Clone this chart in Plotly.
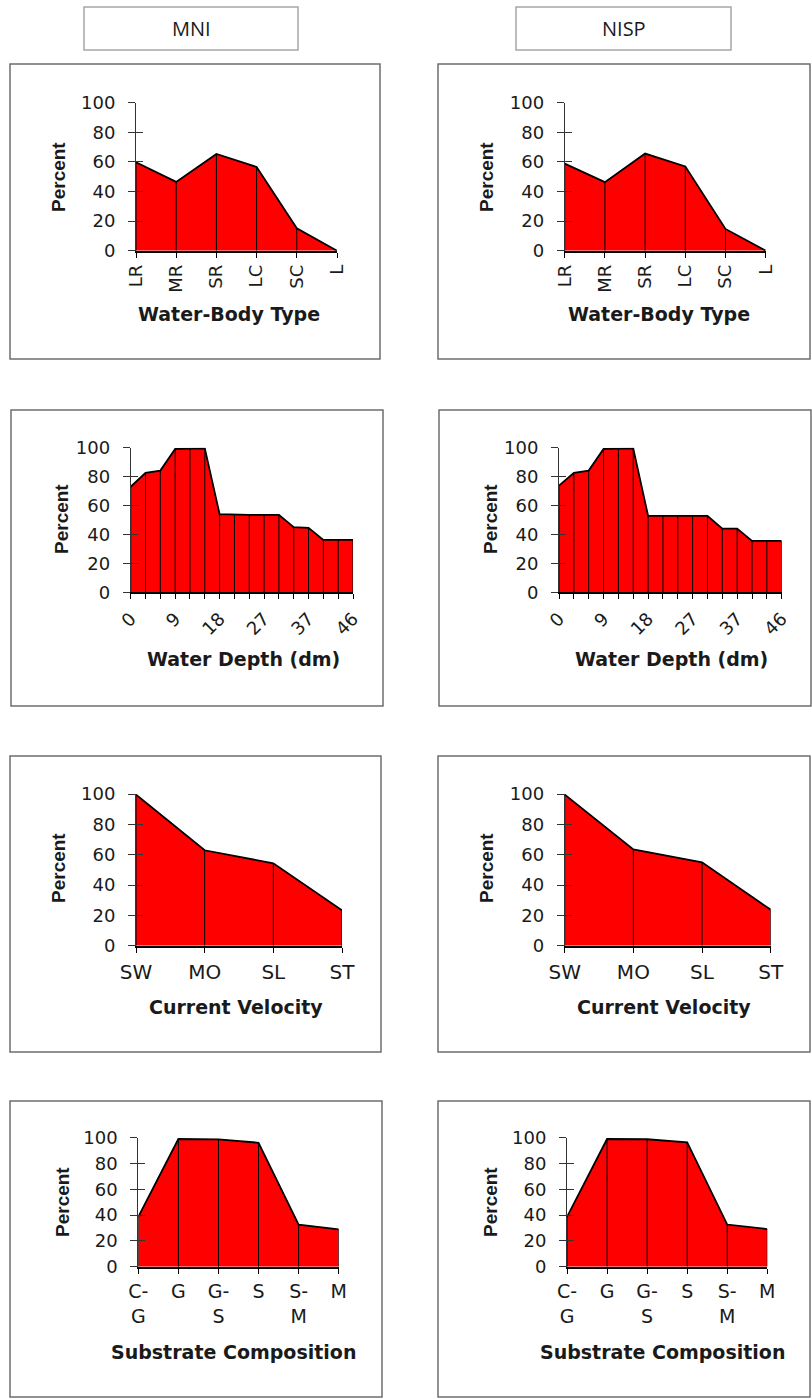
import plotly.graph_objects as go

# ---- data -----------------------------------------------------------------
body_types = ["LR", "MR", "SR", "LC", "SC", "L"]
body_mni = [59.7, 46.5, 65.4, 56.6, 15.1, 0]
body_nisp = [58.8, 46.3, 65.6, 56.9, 14.7, 0]

depth_tick_labels = ["0", "", "", "9", "", "", "18", "", "", "27", "", "", "37", "", "", "46"]
depth_mni = [73.0, 82.6, 84.2, 99.1, 99.3, 99.5, 54.0, 53.6, 53.6, 53.6, 53.6, 45.0, 44.6, 36.2, 36.2, 36.2]
depth_nisp = [73.8, 82.6, 84.2, 99.1, 99.3, 99.5, 52.9, 52.9, 52.9, 52.9, 52.9, 44.0, 44.0, 35.5, 35.5, 35.5]

velocity_types = ["SW", "MO", "SL", "ST"]
velocity_mni = [99.6, 62.9, 54.3, 23.3]
velocity_nisp = [99.6, 63.5, 55.0, 23.7]

substrate_types = ["C-<br>G", "G", "G-<br>S", "S", "S-<br>M", "M"]
substrate_mni = [38.6, 99.0, 98.7, 96.1, 32.6, 29.0]
substrate_nisp = [38.6, 99.0, 98.8, 96.4, 32.7, 29.2]

y_ticks = [0, 20, 40, 60, 80, 100]
column_titles = ["MNI", "NISP"]
y_title = "Percent"

# ---- page layout (pixels) ---------------------------------------------------
W, H = 812, 1399
FILL = "#FF0000"
TXT = "#1a1a1a"
FONT = "DejaVu Sans"

panels = [
    dict(lab=body_types, val=body_mni, title="Water-Body Type", angle=-90, gap=0, fs=18,
         rect=(136, 337, 102.7, 250.7), box=(10, 380, 64, 359), pct=(59, 177), ttl=(229, 314)),
    dict(lab=body_types, val=body_nisp, title="Water-Body Type", angle=-90, gap=0, fs=18,
         rect=(564.7, 765.7, 102.7, 250.7), box=(438, 810, 64, 359), pct=(487, 177), ttl=(659, 314)),
    dict(lab=depth_tick_labels, val=depth_mni, title="Water Depth (dm)", angle=-45, gap=2, fs=18,
         rect=(130.7, 353, 447.7, 592.3), box=(11, 383, 410, 706), pct=(61, 519), ttl=(243, 659)),
    dict(lab=depth_tick_labels, val=depth_nisp, title="Water Depth (dm)", angle=-45, gap=2, fs=18,
         rect=(559, 781.7, 447.7, 592.3), box=(439, 811, 410, 706), pct=(490, 519), ttl=(671, 659)),
    dict(lab=velocity_types, val=velocity_mni, title="Current Velocity", angle=0, gap=2, fs=20,
         rect=(136, 342, 794, 945.7), box=(10, 381, 756, 1052), pct=(59, 868), ttl=(236, 1007)),
    dict(lab=velocity_types, val=velocity_nisp, title="Current Velocity", angle=0, gap=2, fs=20,
         rect=(564.7, 770.7, 794, 945.7), box=(438, 810, 756, 1052), pct=(487, 868), ttl=(664, 1007)),
    dict(lab=substrate_types, val=substrate_mni, title="Substrate Composition", angle=0, gap=2, fs=19,
         rect=(138.3, 338.7, 1137.7, 1266.7), box=(10, 382, 1101, 1397), pct=(62, 1202), ttl=(234, 1352)),
    dict(lab=substrate_types, val=substrate_nisp, title="Substrate Composition", angle=0, gap=2, fs=19,
         rect=(567, 767.3, 1137.7, 1266.7), box=(438, 810, 1101, 1397), pct=(490, 1202), ttl=(662, 1352)),
]
header_boxes = [(84, 298, 7, 50), (516, 731, 7, 50)]


def px_x(v):
    return v / W


def px_y(v):
    return 1 - v / H


fig = go.Figure()
layout = {}
shapes = []
annotations = []

for k, p in enumerate(panels, start=1):
    sfx = "" if k == 1 else str(k)
    ov = str(k + len(panels))
    n = len(p["val"])
    idx = list(range(n))
    x0, x1, yt, yb = p["rect"]

    # filled area with outline
    fig.add_trace(go.Scatter(
        x=idx, y=p["val"], mode="lines", fill="tozeroy", fillcolor=FILL,
        line=dict(color="black", width=1.8), xaxis="x" + sfx, yaxis="y" + sfx,
        hoverinfo="skip", showlegend=False))

    # drop lines from each point to the baseline
    dx, dy = [], []
    for i, v in zip(idx, p["val"]):
        dx += [i, i, None]
        dy += [0, v, None]
    fig.add_trace(go.Scatter(
        x=dx, y=dy, mode="lines", line=dict(color="black", width=1),
        xaxis="x" + sfx, yaxis="y" + ov, hoverinfo="skip", showlegend=False))

    layout["xaxis" + sfx] = dict(
        domain=[px_x(x0), px_x(x1)], anchor="y" + sfx, range=[0, n - 1],
        tickmode="array", tickvals=idx, ticktext=p["lab"], tickangle=p["angle"],
        ticks="outside", ticklen=5, tickcolor="black", tickwidth=1,
        tickfont=dict(family=FONT, size=p["fs"], color=TXT),
        ticklabelstandoff=p["gap"], automargin=False,
        showline=True, linecolor="black", linewidth=1.8,
        showgrid=False, zeroline=False, fixedrange=True)
    layout["yaxis" + sfx] = dict(
        domain=[px_y(yb), px_y(yt)], anchor="x" + sfx, range=[0, 100],
        tickmode="array", tickvals=y_ticks, ticks="outside", ticklen=7,
        tickcolor="#333333", tickwidth=1, tickfont=dict(family=FONT, size=18, color=TXT),
        ticklabelstandoff=9, automargin=False,
        showline=True, linecolor="#333333", linewidth=1,
        showgrid=False, zeroline=False, fixedrange=True)
    # companion axis giving the y ticks their inner half
    layout["yaxis" + ov] = dict(
        overlaying="y" + sfx, anchor="x" + sfx, range=[0, 100],
        tickmode="array", tickvals=y_ticks, ticks="inside", ticklen=7,
        tickcolor="#333333", tickwidth=1, showticklabels=False, automargin=False,
        showline=False, showgrid=False, zeroline=False, fixedrange=True)

    bx0, bx1, by0, by1 = p["box"]
    shapes.append(dict(type="rect", xref="paper", yref="paper",
                       x0=px_x(bx0), x1=px_x(bx1), y0=px_y(by1), y1=px_y(by0),
                       line=dict(color="#6e6e6e", width=1.5), layer="below"))
    annotations.append(dict(
        text="<b>%s</b>" % y_title, textangle=-90, xref="paper", yref="paper",
        x=px_x(p["pct"][0]), y=px_y(p["pct"][1]), xanchor="center", yanchor="middle",
        showarrow=False, font=dict(family="Liberation Sans", size=19, color=TXT)))
    annotations.append(dict(
        text="<b>%s</b>" % p["title"], xref="paper", yref="paper",
        x=px_x(p["ttl"][0]), y=px_y(p["ttl"][1]), xanchor="center", yanchor="middle",
        showarrow=False, font=dict(family=FONT, size=19, color=TXT)))

for (bx0, bx1, by0, by1), name in zip(header_boxes, column_titles):
    shapes.append(dict(type="rect", xref="paper", yref="paper",
                       x0=px_x(bx0), x1=px_x(bx1), y0=px_y(by1), y1=px_y(by0),
                       line=dict(color="#a6a6a6", width=1.5), layer="below"))
    annotations.append(dict(
        text=name, xref="paper", yref="paper",
        x=px_x((bx0 + bx1) / 2), y=px_y((by0 + by1) / 2), xanchor="center", yanchor="middle",
        showarrow=False, font=dict(family="Open Sans", size=20, color=TXT)))

fig.update_layout(
    template="none",
    width=W, height=H, margin=dict(l=0, r=0, t=0, b=0, pad=0, autoexpand=False),
    paper_bgcolor="white", plot_bgcolor="white",
    showlegend=False, hovermode=False,
    shapes=shapes, annotations=annotations, **layout)

fig.write_html("out.html", config={"displayModeBar": False})
